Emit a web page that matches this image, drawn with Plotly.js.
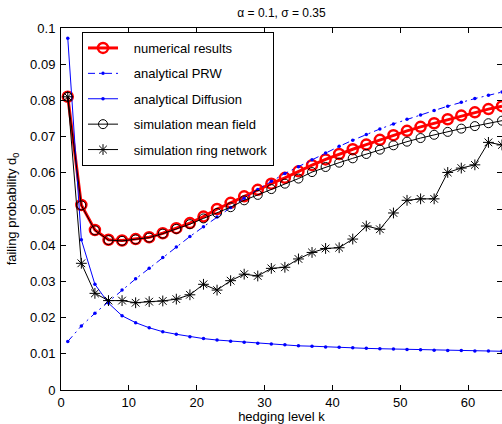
<!DOCTYPE html>
<html>
<head>
<meta charset="utf-8">
<script src="https://cdn.plot.ly/plotly-3.0.1.min.js"></script>
<style>html,body{margin:0;padding:0;overflow:hidden;background:#fff}</style>
</head>
<body>
<div id="chart" style="width:502px;height:424px"></div>
<script>
const hedgingK = [1,3,5,7,9,11,13,15,17,19,21,23,25,27,29,31,33,35,37,39,41,43,45,47,49,51,53,55,57,59,61,63,65];

const numericalResults = [0.0810,0.0511,0.0442,0.0415,0.0413,0.0417,0.0422,0.0433,0.0447,0.0461,0.0479,0.0500,0.0517,0.0535,0.0553,0.0570,0.0586,0.0604,0.0621,0.0637,0.0652,0.0665,0.0678,0.0691,0.0704,0.0716,0.0727,0.0737,0.0748,0.0758,0.0767,0.0776,0.0784];

const analyticalPRW = [0.0134,0.0177,0.0212,0.0244,0.0276,0.0307,0.0336,0.0366,0.0395,0.0424,0.0451,0.0478,0.0504,0.0530,0.0554,0.0577,0.0598,0.0617,0.0636,0.0655,0.0673,0.0690,0.0706,0.0721,0.0735,0.0748,0.0760,0.0772,0.0784,0.0795,0.0805,0.0814,0.0823];

const analyticalDiffusion = [0.0972,0.0415,0.0292,0.0240,0.0205,0.0186,0.0172,0.0161,0.0154,0.0147,0.0142,0.0138,0.0135,0.0132,0.0129,0.0127,0.0125,0.0122,0.0121,0.0119,0.0118,0.0117,0.0115,0.0114,0.0113,0.0112,0.0111,0.0110,0.0109,0.0109,0.0108,0.0108,0.0107];

const simMeanField = [0.0810,0.0510,0.0441,0.0414,0.0412,0.0416,0.0421,0.0432,0.0445,0.0458,0.0474,0.0489,0.0505,0.0524,0.0539,0.0555,0.0570,0.0584,0.0602,0.0616,0.0628,0.0640,0.0652,0.0664,0.0676,0.0686,0.0696,0.0705,0.0713,0.0722,0.0729,0.0737,0.0744];

const simRingNetwork = [0.0810,0.0350,0.0267,0.0247,0.0247,0.0241,0.0244,0.0246,0.0251,0.0263,0.0292,0.0276,0.0302,0.0320,0.0315,0.0336,0.0339,0.0362,0.0380,0.0391,0.0393,0.0417,0.0453,0.0444,0.0489,0.0524,0.0528,0.0528,0.0601,0.0613,0.0622,0.0684,0.0677];

const seriesNames = ['numerical results','analytical PRW','analytical Diffusion','simulation mean field','simulation ring network'];
const yTickVals = [0,0.01,0.02,0.03,0.04,0.05,0.06,0.07,0.08,0.09,0.1];
const yTickText = ['0','0.01','0.02','0.03','0.04','0.05','0.06','0.07','0.08','0.09','0.1'];
const xTickVals = [0,10,20,30,40,50,60];

const FONT = 'Liberation Sans, Arial, Helvetica, sans-serif';
const pad = '\u00a0\u00a0\u00a0';

const traces = [
  {x: hedgingK, y: numericalResults, name: pad + seriesNames[0], legendgroup: 'a', mode: 'lines+markers',
   line: {color: '#ff0000', width: 3},
   marker: {symbol: 'circle-open', size: 10, color: '#ff0000', line: {width: 2.5, color: '#ff0000'}}},
  {x: hedgingK, y: analyticalPRW, name: pad + seriesNames[1], legendgroup: 'b', mode: 'lines+markers',
   line: {color: '#0000ff', width: 1, dash: '7px,4px,2px,4px'},
   marker: {symbol: 'circle', size: 3.5, color: '#0000ff'}},
  {x: hedgingK, y: analyticalDiffusion, name: pad + seriesNames[2], legendgroup: 'c', mode: 'lines+markers',
   line: {color: '#0000ff', width: 1},
   marker: {symbol: 'circle', size: 3.5, color: '#0000ff'}},
  {x: hedgingK, y: simMeanField, name: pad + seriesNames[3], legendgroup: 'd', mode: 'lines+markers',
   line: {color: '#000000', width: 1},
   marker: {symbol: 'circle-open', size: 9, color: '#000000', line: {width: 1, color: '#000000'}}},
  {x: hedgingK, y: simRingNetwork, name: pad + seriesNames[4], legendgroup: 'e', mode: 'lines+markers',
   line: {color: '#000000', width: 1},
   marker: {symbol: 'asterisk-open', size: 9, color: '#000000', line: {width: 1, color: '#000000'}}}
];

const layout = {
  width: 502, height: 424,
  margin: {l: 61, r: 0, t: 28, b: 34, pad: 0},
  paper_bgcolor: '#ffffff', plot_bgcolor: '#ffffff',
  font: {family: FONT, size: 13, color: '#000000'},
  showlegend: true,
  title: {text: 'α = 0.1, σ = 0.35', font: {family: FONT, size: 12, color: '#000000'},
          x: 0.5, xref: 'paper', y: 1 - 13/424, yref: 'container', yanchor: 'middle'},
  xaxis: {range: [0, 65], tickvals: xTickVals, ticks: 'inside', ticklen: 5, tickcolor: '#000',
          showline: true, linecolor: '#000', linewidth: 1, mirror: 'ticks',
          showgrid: false, zeroline: false, tickfont: {size: 13, color: '#000'},
          title: {text: 'hedging level k', font: {size: 13, color: '#000'}, standoff: 2}},
  yaxis: {range: [0, 0.1], tickvals: yTickVals, ticktext: yTickText, ticks: 'inside', ticklen: 5, tickcolor: '#000',
          showline: true, linecolor: '#000', linewidth: 1, mirror: 'ticks', ticklabelstandoff: 2,
          showgrid: false, zeroline: false, tickfont: {size: 13, color: '#000'},
          title: {text: 'failing probability d<sub>0</sub>', font: {size: 13, color: '#000'}, standoff: 10}},
  legend: {x: (82-61)/441, y: (390-32)/362, xanchor: 'left', yanchor: 'top',
           bgcolor: '#ffffff', bordercolor: '#000000', borderwidth: 1,
           font: {family: FONT, size: 13, color: '#000'},
           traceorder: 'grouped', tracegroupgap: 5.5}
};

Plotly.newPlot('chart', traces, layout, {displayModeBar: false, staticPlot: true});
</script>
</body>
</html>
